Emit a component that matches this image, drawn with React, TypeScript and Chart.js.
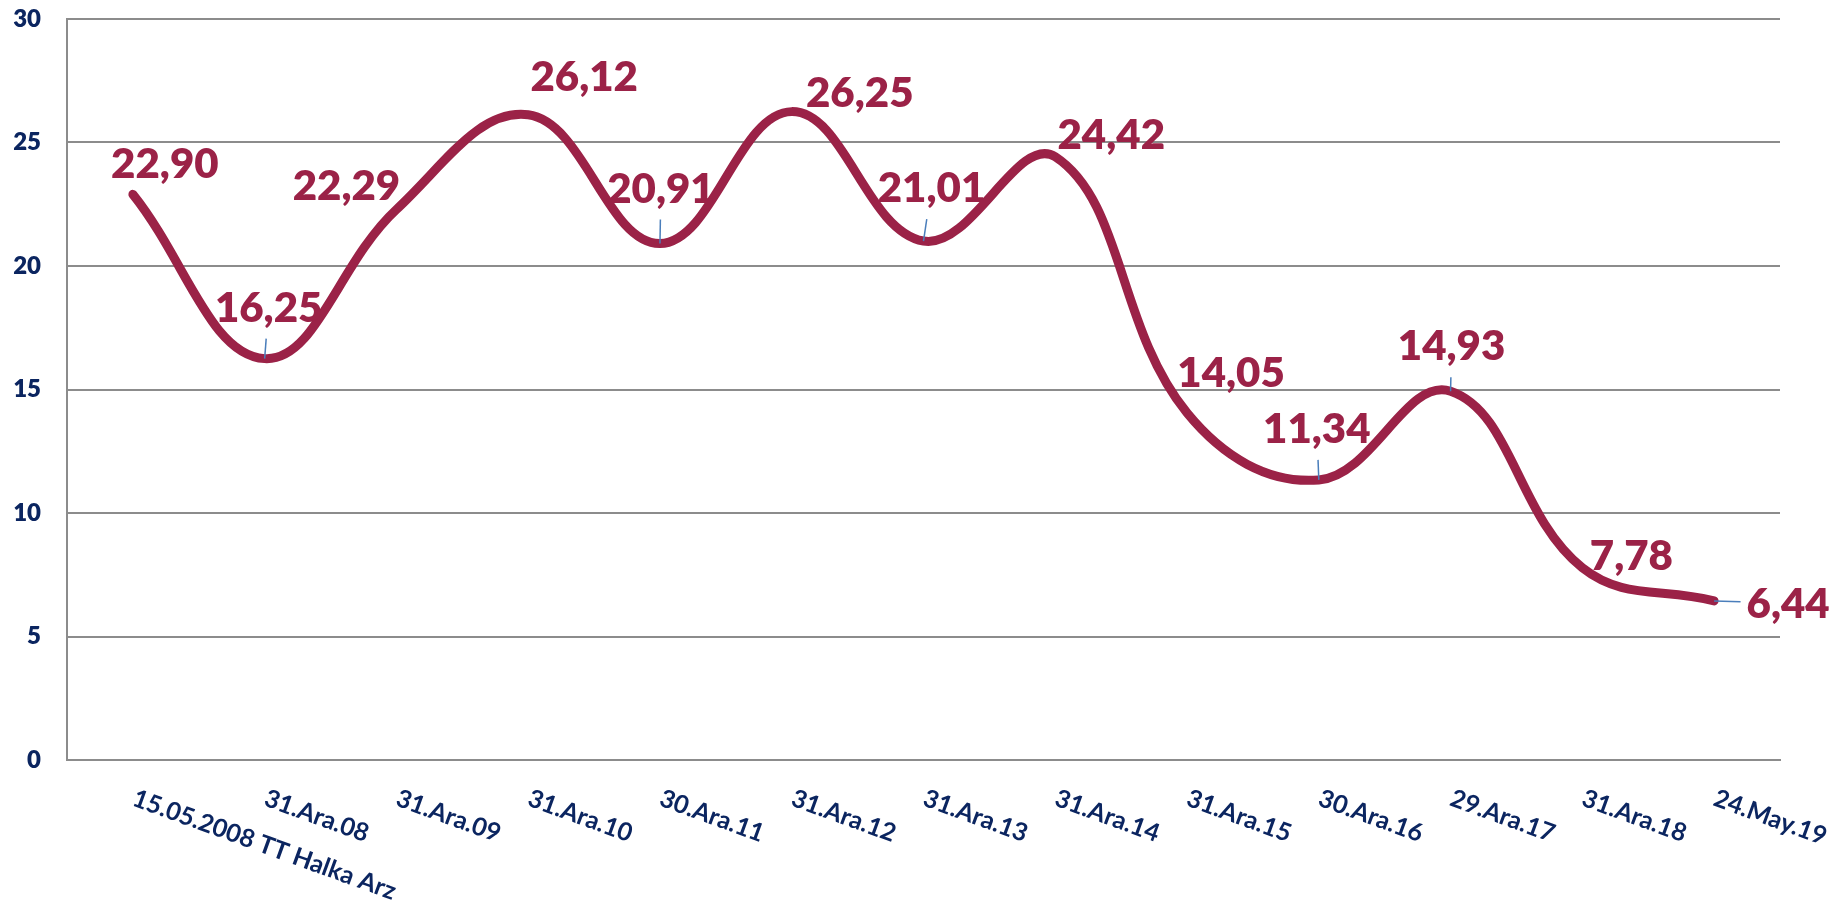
import React, { useEffect, useRef } from "react";
import { Chart, registerables } from "chart.js";

Chart.register(...registerables);

// ---------- data ----------
const categories = [
  "15.05.2008 TT Halka Arz",
  "31.Ara.08",
  "31.Ara.09",
  "31.Ara.10",
  "30.Ara.11",
  "31.Ara.12",
  "31.Ara.13",
  "31.Ara.14",
  "31.Ara.15",
  "30.Ara.16",
  "29.Ara.17",
  "31.Ara.18",
  "24.May.19",
];
const values = [22.9, 16.25, 22.29, 26.12, 20.91, 26.25, 21.01, 24.42, 14.05, 11.34, 14.93, 7.78, 6.44];
const yTickValues = [0, 5, 10, 15, 20, 25, 30];

// ---------- styling (label placement relative to each point, in px) ----------
const labelOffsets: [number, number][] = [
  [32, -31],
  [4, -52],
  [-50, -24],
  [56, -39],
  [1, -56],
  [68, -20],
  [8, -54],
  [56, -23],
  [44, -41],
  [-2, -52],
  [1, -46],
  [49, -13],
  [74, 2],
];
const leaderIndices = [1, 4, 6, 9, 10, 12];

const LINE_COLOR = "#9B2247";
const NAVY = "#0B2560";
const GRID = "#8C8C8C";

const fmt = (v: number) => v.toFixed(2).replace(".", ",");

const dataLabelPlugin = {
  id: "dataLabelPlugin",
  afterDatasetsDraw(chart: any) {
    const ctx = chart.ctx as CanvasRenderingContext2D;
    const meta = chart.getDatasetMeta(0);
    ctx.save();
    ctx.font = "800 42px Lato";
    meta.data.forEach((pt: any, i: number) => {
      const txt = fmt(values[i]);
      const [dx, dy] = labelOffsets[i];
      const cx = pt.x + dx;
      const cy = pt.y + dy;
      const w = ctx.measureText(txt).width;
      if (leaderIndices.includes(i)) {
        const l = cx - w / 2 - 6;
        const r = cx + w / 2 + 6;
        const t = cy - 15 - 6;
        const b = cy + 15 + 17;
        const vx = cx - pt.x;
        const vy = cy - pt.y;
        let tEnter = 0;
        if (vx !== 0) {
          const t1 = (l - pt.x) / vx;
          const t2 = (r - pt.x) / vx;
          tEnter = Math.max(tEnter, Math.min(t1, t2));
        }
        if (vy !== 0) {
          const t1 = (t - pt.y) / vy;
          const t2 = (b - pt.y) / vy;
          tEnter = Math.max(tEnter, Math.min(t1, t2));
        }
        const ex = pt.x + vx * tEnter;
        const ey = pt.y + vy * tEnter;
        ctx.beginPath();
        ctx.strokeStyle = "#4A7EBB";
        ctx.lineWidth = 1.5;
        ctx.moveTo(pt.x, pt.y);
        ctx.lineTo(ex, ey);
        ctx.stroke();
      }
      ctx.fillStyle = LINE_COLOR;
      ctx.textAlign = "center";
      ctx.textBaseline = "alphabetic";
      ctx.fillText(txt, cx, cy + 15);
    });
    ctx.restore();
  },
};

const xLabelPlugin = {
  id: "xLabelPlugin",
  afterDraw(chart: any) {
    const ctx = chart.ctx as CanvasRenderingContext2D;
    const xs = chart.scales.x;
    ctx.save();
    ctx.font = "bold 25px Lato";
    ctx.fillStyle = NAVY;
    ctx.textAlign = "left";
    ctx.textBaseline = "alphabetic";
    categories.forEach((c, i) => {
      const x = xs.getPixelForTick(i);
      ctx.save();
      ctx.translate(x - 2, xs.top + 45);
      ctx.rotate((20 * Math.PI) / 180);
      ctx.fillText(c, 0, 0);
      ctx.restore();
    });
    ctx.restore();
  },
};

export default function App() {
  const ref = useRef<HTMLCanvasElement | null>(null);

  useEffect(() => {
    let chart: Chart | null = null;
    let cancelled = false;
    const make = () => {
      if (cancelled || !ref.current) return;
      chart = new Chart(ref.current, {
        type: "line",
        data: {
          labels: categories,
          datasets: [
            {
              data: values,
              borderColor: LINE_COLOR,
              borderWidth: 9,
              borderCapStyle: "round",
              borderJoinStyle: "round",
              tension: 0.4,
              pointRadius: 0,
              pointHoverRadius: 0,
              fill: false,
            },
          ],
        },
        options: {
          responsive: false,
          animation: false,
          events: [],
          layout: { padding: { top: 19, right: 67, left: 0, bottom: 0 } },
          plugins: { legend: { display: false }, tooltip: { enabled: false } },
          scales: {
            x: {
              type: "category",
              offset: true,
              grid: { display: false, drawTicks: false },
              border: { display: true, color: GRID, width: 2 },
              ticks: { display: false },
              afterFit(s: any) {
                s.height = 144;
                s.paddingLeft = 0;
                s.paddingRight = 0;
              },
            },
            y: {
              min: 0,
              max: 30,
              afterBuildTicks(s: any) {
                s.ticks = yTickValues.map((v) => ({ value: v }));
              },
              ticks: {
                padding: 26,
                color: NAVY,
                font: { family: "Lato", weight: "800", size: 24 },
              },
              grid: { color: GRID, lineWidth: 2, drawTicks: false },
              border: { display: true, color: GRID, width: 2 },
              afterFit(s: any) {
                s.width = 67;
                s.paddingTop = 0;
                s.paddingBottom = 0;
              },
            },
          },
        } as any,
        plugins: [dataLabelPlugin, xLabelPlugin],
      });
    };
    const fontsReady = (document as any).fonts
      ? Promise.all([
          (document as any).fonts.load("800 42px Lato"),
          (document as any).fonts.load("bold 25px Lato"),
          (document as any).fonts.load("800 24px Lato"),
        ]).catch(() => null)
      : Promise.resolve(null);
    fontsReady.then(make);
    return () => {
      cancelled = true;
      if (chart) chart.destroy();
    };
  }, []);

  return (
    <div style={{ position: "absolute", left: 0, top: 0, width: 1847, height: 904, background: "#fff" }}>
      <canvas ref={ref} width={1847} height={904} style={{ display: "block" }} />
    </div>
  );
}
